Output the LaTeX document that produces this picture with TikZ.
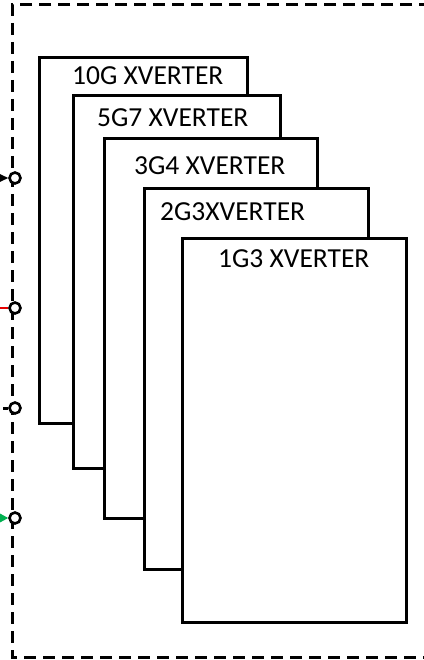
\documentclass[tikz,border=0pt]{standalone}
\usepackage{fontspec}
\setmainfont{Carlito}
\usepackage{xcolor}
\usetikzlibrary{arrows.meta,positioning}

\definecolor{portred}{RGB}{230,0,0}
\definecolor{portgreen}{RGB}{0,176,80}

\tikzset{
  xbox/.style={draw,fill=white,line width=2.8pt,anchor=north west,inner sep=0pt},
  lbl/.style={anchor=west,inner sep=0pt,font=\fontsize{27.5}{30}\selectfont},
  port/.style={circle,draw,fill=white,line width=2.6pt,minimum size=11pt,inner sep=0pt}
}

\begin{document}
\begin{tikzpicture}[x=1pt,y=-1pt]
  \useasboundingbox (0,0) rectangle (423,660);
  % outer frame
  \draw[line width=3pt,dash pattern=on 12pt off 7pt] (450,5) -- (12,5) -- (12,657) -- (450,657);

  % converter cards
  \node[xbox,minimum width=208pt,minimum height=366pt] (g10) at (38,56)  {};
  \node[lbl] (t10) at (72,76)  {10G XVERTER};
  \node[xbox,minimum width=207pt,minimum height=373pt] (g57) at (72,94)  {};
  \node[lbl] (t57) at (97,118) {5G7 XVERTER};
  \node[xbox,minimum width=213pt,minimum height=380pt] (g34) at (103,137) {};
  \node[lbl] (t34) at (134,166) {3G4 XVERTER};
  \node[xbox,minimum width=224pt,minimum height=381pt] (g23) at (143,187) {};
  \node[lbl] (t23) at (160,212) {2G3XVERTER};
  \node[xbox,minimum width=224pt,minimum height=384pt] (g13) at (181,237) {};
  \node[lbl] (t13) at (218,259) {1G3 XVERTER};

  % ports on the frame
  \node[port] (p1) at (15,178) {};
  \node[port] (p2) at (15,308) {};
  \node[port] (p3) at (15,408) {};
  \node[port] (p4) at (15,518) {};
  \coordinate (i1) at (-6,178);
  \coordinate (i2) at (-4,308);
  \coordinate (i3) at (3,408);
  \coordinate (i4) at (-8,518);

  \draw[line width=2pt,-{Triangle[length=12pt,width=11pt]}] (i1) -- (p1);
  \draw[line width=2.5pt,portred] (i2) -- (p2);
  \draw[line width=3pt] (i3) -- (p3);
  \draw[line width=2pt,portgreen,-{Triangle[length=16pt,width=17pt]}] (i4) -- (p4);
\end{tikzpicture}
\end{document}
